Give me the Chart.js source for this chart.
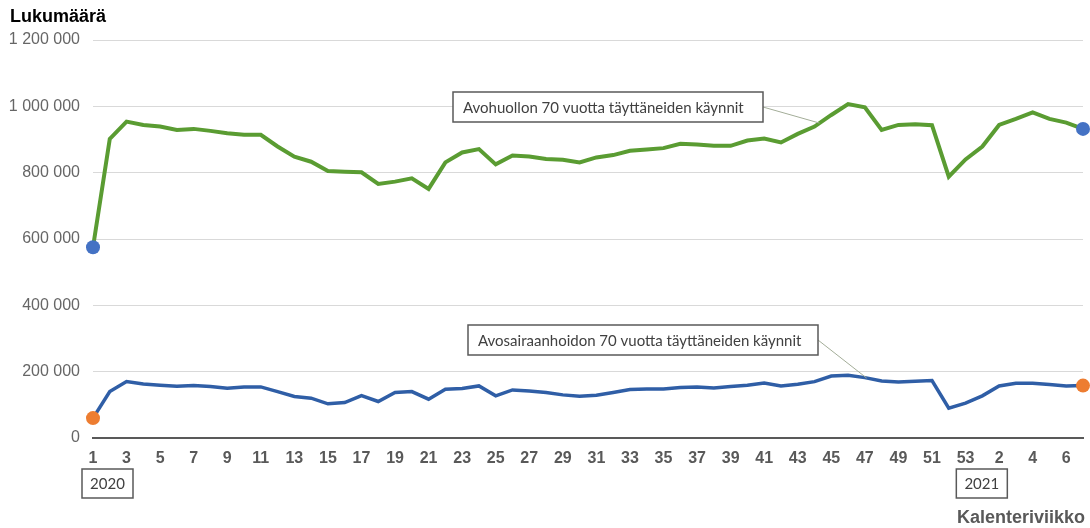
<!DOCTYPE html>
<html lang="fi">
<head>
<meta charset="utf-8">
<script src="https://cdn.jsdelivr.net/npm/chart.js@4.4.1/dist/chart.umd.min.js"></script>
<style>
  html, body { margin: 0; padding: 0; background: #fff; }
  #wrap { width: 1090px; height: 528px; position: relative; }
</style>
</head>
<body>
<div id="wrap"><canvas id="visitsChart"></canvas></div>
<script>
// Kalenteriviikot 2020 (1-53) ja 2021 (1-7)
const weekLabels = [
  '1', '2', '3', '4', '5', '6', '7', '8', '9', '10',
  '11', '12', '13', '14', '15', '16', '17', '18', '19', '20',
  '21', '22', '23', '24', '25', '26', '27', '28', '29', '30',
  '31', '32', '33', '34', '35', '36', '37', '38', '39', '40',
  '41', '42', '43', '44', '45', '46', '47', '48', '49', '50',
  '51', '52', '53', '1', '2', '3', '4', '5', '6', '7'
];

const avohuoltoVisits = [
  575000, 902000, 954000, 944000, 939000, 929000, 932000, 926000, 919000, 914000,
  914000, 879000, 848000, 833000, 805000, 803000, 801000, 766000, 773000, 783000,
  751000, 831000, 861000, 871000, 825000, 852000, 849000, 841000, 839000, 831000,
  846000, 853000, 866000, 870000, 874000, 887000, 885000, 881000, 881000, 897000,
  903000, 891000, 917000, 939000, 974000, 1007000, 997000, 929000, 944000, 946000,
  943000, 788000, 840000, 879000, 944000, 962000, 982000, 962000, 951000, 932000
];

const avosairaanhoitoVisits = [
  60000, 140000, 170000, 163000, 159000, 156000, 158000, 155000, 150000, 154000,
  154000, 140000, 125000, 120000, 103000, 107000, 128000, 110000, 137000, 140000,
  117000, 147000, 149000, 157000, 127000, 145000, 142000, 137000, 130000, 126000,
  129000, 137000, 146000, 148000, 148000, 152000, 154000, 151000, 155000, 159000,
  166000, 157000, 162000, 170000, 187000, 189000, 182000, 172000, 169000, 171000,
  173000, 90000, 105000, 127000, 157000, 165000, 165000, 161000, 157000, 158000
];

const seriesNames = [
  'Avohuollon 70 vuotta täyttäneiden käynnit',
  'Avosairaanhoidon 70 vuotta täyttäneiden käynnit'
];
const yearLabels = ['2020', '2021'];
const yearStartIndex = [0, 53];

const yTicks = [0, 200000, 400000, 600000, 800000, 1000000, 1200000];

function endRadius(len) {
  const r = [];
  for (let i = 0; i < len; i++) r.push(i === 0 || i === len - 1 ? 7 : 0);
  return r;
}

function formatNumber(v) {
  return String(v).replace(/\B(?=(\d{3})+(?!\d))/g, ' ');
}

const sansFont = "'Liberation Sans', Arial, sans-serif";
const calloutFont = "Lato, 'Open Sans', sans-serif";

// tekstit, vuosilaatikot ja selitelaatikot
const decorations = {
  id: 'decorations',
  afterDraw(chart) {
    const ctx = chart.ctx;
    const x = chart.scales.x;
    const y = chart.scales.y;
    ctx.save();

    ctx.fillStyle = '#000';
    ctx.font = `bold 18px ${sansFont}`;
    ctx.textAlign = 'left';
    ctx.textBaseline = 'middle';
    ctx.fillText('Lukumäärä', 10, 17);

    ctx.fillStyle = '#595959';
    ctx.textAlign = 'right';
    ctx.fillText('Kalenteriviikko', 1085, 518);

    // vuosilaatikot
    ctx.font = `15px ${calloutFont}`;
    ctx.textAlign = 'center';
    yearLabels.forEach((yr, k) => {
      const px = x.getPixelForValue(yearStartIndex[k]);
      const left = k === 0 ? px - 11 : px - 26;
      ctx.fillStyle = '#fff';
      ctx.fillRect(left, 469, 51, 29);
      ctx.strokeStyle = '#595959';
      ctx.lineWidth = 1.5;
      ctx.strokeRect(left, 469, 51, 29);
      ctx.fillStyle = '#404040';
      ctx.fillText(yr, left + 25.5, 484);
    });

    // selitteet viivoilla
    const callouts = [
      { text: seriesNames[0], box: [453, 92, 310, 30], from: 0.3, idx: 43, data: avohuoltoVisits },
      { text: seriesNames[1], box: [468, 325, 350, 30], from: 0.1, idx: 46, data: avosairaanhoitoVisits }
    ];
    callouts.forEach(c => {
      const [bx, by, bw, bh] = c.box;
      const i = c.idx;
      const x0 = x.getPixelForValue(i), y0 = y.getPixelForValue(c.data[i]);
      const x1 = x.getPixelForValue(i + 1), y1 = y.getPixelForValue(c.data[i + 1]);
      const tx = x0 + (x1 - x0) * c.from, ty = y0 + (y1 - y0) * c.from;
      ctx.strokeStyle = '#a3ad98';
      ctx.lineWidth = 1;
      ctx.beginPath();
      ctx.moveTo(bx + bw, by + bh / 2);
      ctx.lineTo(tx, ty);
      ctx.stroke();

      ctx.fillStyle = '#fff';
      ctx.fillRect(bx, by, bw, bh);
      ctx.strokeStyle = '#595959';
      ctx.lineWidth = 1.5;
      ctx.strokeRect(bx, by, bw, bh);
      ctx.fillStyle = '#404040';
      ctx.font = `15px ${calloutFont}`;
      ctx.textAlign = 'left';
      ctx.fillText(c.text, bx + 10, by + bh / 2 + 1);
    });

    ctx.restore();
  }
};

const ctx = document.getElementById('visitsChart').getContext('2d');

new Chart(ctx, {
  type: 'line',
  data: {
    labels: weekLabels,
    datasets: [
      {
        label: seriesNames[0],
        data: avohuoltoVisits,
        borderColor: '#5a9c32',
        borderWidth: 4,
        pointRadius: endRadius(avohuoltoVisits.length),
        pointBackgroundColor: '#4472c4',
        pointBorderWidth: 0,
        tension: 0
      },
      {
        label: seriesNames[1],
        data: avosairaanhoitoVisits,
        borderColor: '#2f5ea6',
        borderWidth: 3.5,
        pointRadius: endRadius(avosairaanhoitoVisits.length),
        pointBackgroundColor: '#ed7d31',
        pointBorderWidth: 0,
        tension: 0
      }
    ]
  },
  options: {
    responsive: true,
    maintainAspectRatio: false,
    animation: false,
    layout: { padding: { left: 0, right: 4, top: 40, bottom: 0 } },
    plugins: {
      legend: { display: false },
      tooltip: { enabled: false }
    },
    scales: {
      x: {
        offset: false,
        grid: { display: false },
        border: { display: true, color: '#595959', width: 2 },
        afterFit: s => { s.height = 90; },
        ticks: {
          autoSkip: false,
          maxRotation: 0,
          padding: 3,
          color: '#595959',
          font: { family: sansFont, size: 16, weight: 'bold' },
          callback: (val, i) => (i % 2 === 0 ? weekLabels[i] : '')
        }
      },
      y: {
        min: 0,
        max: 1200000,
        afterFit: s => { s.width = 93; },
        afterBuildTicks: s => { s.ticks = yTicks.map(v => ({ value: v })); },
        border: { display: false },
        grid: { color: '#d9d9d9', lineWidth: 1, drawTicks: false },
        ticks: {
          padding: 13,
          color: '#666666',
          font: { family: sansFont, size: 16 },
          callback: v => formatNumber(v)
        }
      }
    }
  },
  plugins: [decorations]
});
</script>
</body>
</html>
